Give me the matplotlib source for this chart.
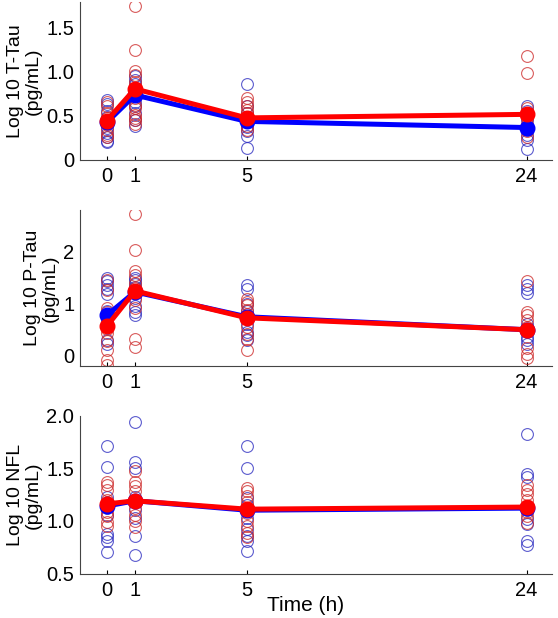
import matplotlib
matplotlib.use('Agg')
import matplotlib.pyplot as plt

plt.rcParams['font.family'] = ['Liberation Sans', 'DejaVu Sans']

# time points (h) and where each is drawn on the (compressed) x axis
time_labels = ['0', '1', '5', '24']
time_pos = [0, 1, 5, 15]

# ---- T-Tau ----
ttau_red = [
    [0.65, 0.60, 0.52, 0.47, 0.44, 0.40, 0.33, 0.28, 0.25],
    [1.74, 1.24, 1.00, 0.96, 0.88, 0.70, 0.62, 0.58, 0.50, 0.47, 0.45, 0.40],
    [0.70, 0.65, 0.60, 0.56, 0.52, 0.47, 0.42, 0.38, 0.33],
    [1.17, 0.98, 0.58, 0.52, 0.47, 0.40, 0.32, 0.25],
]
ttau_blue = [
    [0.67, 0.63, 0.55, 0.48, 0.42, 0.36, 0.30, 0.25, 0.21, 0.20],
    [0.95, 0.90, 0.85, 0.78, 0.72, 0.65, 0.60, 0.52, 0.45, 0.38],
    [0.86, 0.60, 0.53, 0.47, 0.42, 0.37, 0.32, 0.26, 0.13],
    [0.60, 0.55, 0.45, 0.38, 0.33, 0.28, 0.22, 0.12],
]
ttau_red_mean = [0.44, 0.80, 0.47, 0.51]
ttau_blue_mean = [0.42, 0.73, 0.43, 0.36]

# ---- P-Tau ----
ptau_red = [
    [1.45, 1.25, 0.90, 0.83, 0.60, 0.50, 0.42, 0.27, 0.10, -0.10, -0.19],
    [2.72, 2.03, 1.62, 1.54, 1.40, 1.30, 1.06, 0.90, 0.32, 0.16],
    [1.09, 1.03, 0.96, 0.88, 0.80, 0.55, 0.40, 0.32, 0.10],
    [1.44, 0.83, 0.77, 0.67, 0.55, 0.45, 0.13, 0.03, -0.06],
]
ptau_blue = [
    [1.48, 1.44, 1.35, 1.28, 1.18, 0.85, 0.75, 0.65, 0.30, 0.22],
    [1.48, 1.45, 1.38, 1.31, 1.20, 1.10, 0.95, 0.83, 0.77],
    [1.35, 1.28, 0.98, 0.85, 0.61, 0.45, 0.38, 0.29],
    [1.35, 1.28, 1.19, 0.60, 0.50, 0.35, 0.29, 0.22],
]
ptau_red_mean = [0.56, 1.24, 0.72, 0.49]
ptau_blue_mean = [0.77, 1.22, 0.74, 0.49]

# ---- NFL ----
nfl_red = [
    [1.37, 1.34, 1.29, 1.20, 1.13, 1.08, 1.04, 0.99, 0.95],
    [1.47, 1.37, 1.33, 1.28, 1.20, 1.12, 1.05, 1.00, 0.94],
    [1.31, 1.28, 1.24, 1.18, 1.12, 1.07, 1.00, 0.95, 0.88, 0.84],
    [1.34, 1.29, 1.25, 1.20, 1.13, 1.08, 1.04, 0.98],
]
nfl_blue = [
    [1.71, 1.51, 1.23, 1.18, 1.12, 1.05, 0.87, 0.84, 0.81, 0.70],
    [1.94, 1.56, 1.50, 1.23, 1.18, 1.10, 1.03, 0.85, 0.67],
    [1.71, 1.50, 1.22, 1.15, 1.03, 0.92, 0.85, 0.81, 0.71],
    [1.83, 1.45, 1.42, 1.10, 1.02, 0.97, 0.81, 0.77],
]
nfl_red_mean = [1.16, 1.19, 1.11, 1.13]
nfl_blue_mean = [1.14, 1.19, 1.10, 1.12]

panels = [
    ('Log 10 T-Tau\n(pg/mL)', ttau_red, ttau_blue, ttau_red_mean, ttau_blue_mean,
     (-0.01, 1.79), [0, 0.5, 1.0, 1.5], ['0', '0.5', '1.0', '1.5']),
    ('Log 10 P-Tau\n(pg/mL)', ptau_red, ptau_blue, ptau_red_mean, ptau_blue_mean,
     (-0.22, 2.8), [0, 1, 2], ['0', '1', '2']),
    ('Log 10 NFL\n(pg/mL)', nfl_red, nfl_blue, nfl_red_mean, nfl_blue_mean,
     (0.49, 2.0), [0.5, 1.0, 1.5, 2.0], ['0.5', '1.0', '1.5', '2.0']),
]

# axes boxes in figure fraction [left, bottom, width, height]
boxes = [
    [0.143, 0.741, 0.846, 0.256],
    [0.143, 0.407, 0.846, 0.253],
    [0.143, 0.071, 0.846, 0.256],
]

fig = plt.figure(figsize=(5.58, 6.18), dpi=100)

for box, (ylab, red, blue, red_m, blue_m, ylim, yt, ytl) in zip(boxes, panels):
    ax = fig.add_axes(box)
    for i, t in enumerate(time_pos):
        ax.plot([t] * len(blue[i]), blue[i], 'o', ms=8.5, mfc='none',
                mec=(0.15, 0.15, 0.75), mew=0.8, alpha=0.75)
        ax.plot([t] * len(red[i]), red[i], 'o', ms=8.5, mfc='none',
                mec=(0.8, 0.15, 0.15), mew=0.8, alpha=0.75)
    ax.plot(time_pos, blue_m, '-o', color='#0000ff', lw=3.6, ms=10.5, zorder=5)
    ax.plot(time_pos, red_m, '-o', color='#ff0000', lw=3.6, ms=10.5, zorder=6)

    ax.set_xlim(-0.97, 15.9)
    ax.set_ylim(*ylim)
    ax.set_xticks(time_pos)
    ax.set_xticklabels(time_labels)
    ax.set_yticks(yt)
    ax.set_yticklabels(ytl)
    ax.tick_params(axis='x', direction='in', length=3, width=0.8,
                   labelsize=14.5, pad=5)
    ax.tick_params(axis='y', length=0, labelsize=14.5, pad=4)
    for s in ['top', 'right']:
        ax.spines[s].set_visible(False)
    for s in ['left', 'bottom']:
        ax.spines[s].set_color('#444444')
        ax.spines[s].set_linewidth(0.8)
    ax.set_ylabel(ylab, fontsize=14, linespacing=1.1, labelpad=3)

fig.text(0.547, 0.021, 'Time (h)', ha='center', va='center', fontsize=15)

plt.savefig('out.png', dpi=100)
